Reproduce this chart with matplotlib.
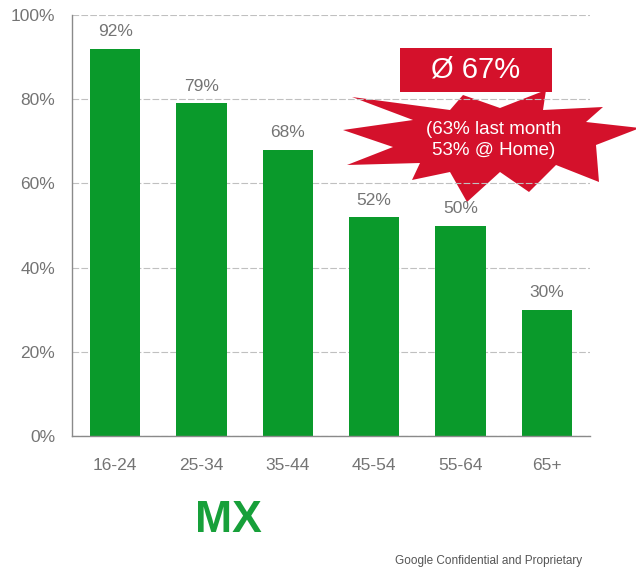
import matplotlib
matplotlib.use("Agg")
import matplotlib.pyplot as plt
from matplotlib.patches import Polygon, Rectangle

plt.rcParams['font.family'] = ['Liberation Sans', 'DejaVu Sans']

categories = ["16-24", "25-34", "35-44", "45-54", "55-64", "65+"]
values = [92, 79, 68, 52, 50, 30]
yticks = [0, 20, 40, 60, 80, 100]
ytick_labels = ["0%", "20%", "40%", "60%", "80%", "100%"]
avg_label = "Ø 67%"
star_label = "(63% last month\n53% @ Home)"
country = "MX"
footer = "Google Confidential and Proprietary"

W, H = 636, 569
GREEN = "#0a9a2b"
RED = "#d4112b"
GREY = "#747474"

fig = plt.figure(figsize=(W / 100, H / 100), dpi=100)
ax = fig.add_axes([72 / W, 1 - 436 / H, (590 - 72) / W, (436 - 15) / H])
ax.patch.set_visible(False)

x = list(range(len(categories)))
bars = ax.bar(x, values, width=0.58, color=GREEN, zorder=3)
for xi, v in zip(x, values):
    ax.annotate(f"{v}%", (xi, v), xytext=(0, 9), textcoords="offset points",
                ha="center", va="baseline", fontsize=12.5, color=GREY, zorder=4)

ax.set_xlim(-0.5, len(categories) - 0.5)
ax.set_ylim(0, 100)
ax.set_xticks(x)
ax.set_xticklabels(categories)
ax.set_yticks(yticks)
ax.set_yticklabels(ytick_labels)
ax.tick_params(axis="x", length=0, pad=16, labelsize=12.5, labelcolor=GREY)
ax.tick_params(axis="y", length=0, pad=12, labelsize=12.5, labelcolor=GREY)
ax.yaxis.grid(True, color="#c0c0c0", linestyle=(0, (6, 2)), linewidth=0.8)
ax.set_axisbelow(False)
for gl in ax.get_ygridlines():
    gl.set_zorder(1.5)
for s in ["top", "right"]:
    ax.spines[s].set_visible(False)
for s in ["left", "bottom"]:
    ax.spines[s].set_color("#8a8a8a")
    ax.spines[s].set_linewidth(1.0)
    ax.spines[s].set_zorder(4)

# starburst decoration (pixel coordinates, top-left origin)
star_px = [(352, 97), (413, 120), (343, 130), (393, 147), (347, 165), (420, 163),
           (412, 180), (450, 172), (467, 202), (500, 172), (529, 192), (556, 165),
           (599, 182), (596, 145), (640, 128), (586, 122), (603, 107), (543, 110),
           (546, 90), (500, 108), (463, 95), (450, 110)]
star = Polygon([(px / W, 1 - py / H) for px, py in star_px], closed=True,
               transform=fig.transFigure, facecolor=RED, edgecolor="none", zorder=-1)
fig.patches.append(star)

rect = Rectangle((400 / W, 1 - 92 / H), (552 - 400) / W, (92 - 48) / H,
                 transform=fig.transFigure, facecolor=RED, edgecolor="none", zorder=3)
fig.patches.append(rect)

fig.text(476 / W, 1 - 70 / H, avg_label, ha="center", va="center",
         fontsize=21, color="white", zorder=5)
fig.text(494 / W, 1 - 140 / H, star_label, ha="center", va="center",
         fontsize=13.5, color="white", linespacing=1.25, zorder=5)

fig.text(228 / W, 1 - 520 / H, country, ha="center", va="center",
         fontsize=32, fontweight="bold", color="#17a03a")
fig.text(395 / W, 1 - 561 / H, footer, ha="left", va="center",
         fontsize=8.5, color="#555555")

fig.savefig("out.png", dpi=100)
